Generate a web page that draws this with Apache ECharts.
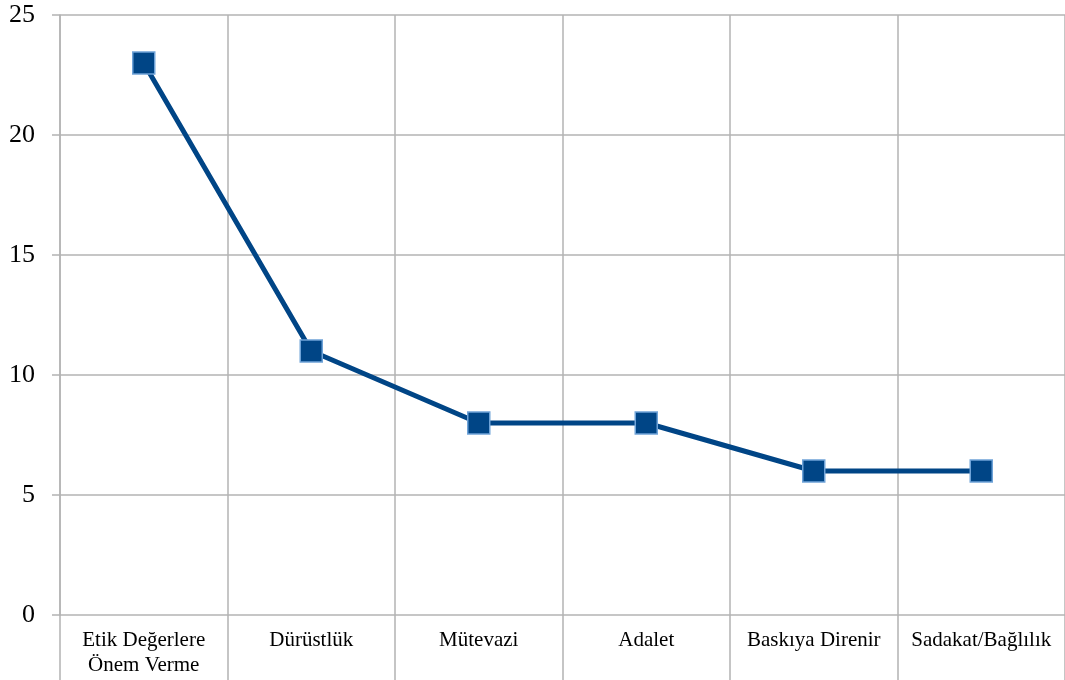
<!DOCTYPE html>
<html>
<head>
<meta charset="utf-8">
<script src="https://cdn.jsdelivr.net/npm/echarts@6/dist/echarts.min.js"></script>
<style>
  html, body { margin: 0; padding: 0; background: #fff; }
  #chart { width: 1065px; height: 680px; }
</style>
</head>
<body>
<div id="chart"></div>
<script>
// kategoriler ve değerler
const categories = ['Etik Değerlere\nÖnem Verme', 'Dürüstlük', 'Mütevazi', 'Adalet', 'Baskıya Direnir', 'Sadakat/Bağlılık'];
const values = [23, 11, 8, 8, 6, 6];
const yMin = 0;
const yMax = 25;
const yStep = 5;

const gridColor = '#b3b3b3';
const lineColor = '#004586';

const chart = echarts.init(document.getElementById('chart'));
chart.setOption({
  backgroundColor: '#fff',
  animation: false,
  grid: { left: 60, right: 0, top: 15, bottom: 65, containLabel: false },
  xAxis: {
    type: 'category',
    data: categories,
    boundaryGap: true,
    axisLine: { show: false },
    axisTick: { show: true, length: 65, lineStyle: { color: gridColor, width: 1.5 } },
    splitLine: { show: true, lineStyle: { color: gridColor, width: 1.5 } },
    axisLabel: {
      interval: 0,
      margin: 13,
      color: '#000',
      fontFamily: 'Liberation Serif',
      fontSize: 21,
      lineHeight: 25
    }
  },
  yAxis: {
    type: 'value',
    min: yMin,
    max: yMax,
    interval: yStep,
    axisLine: { show: true, lineStyle: { color: gridColor, width: 1.5 } },
    axisTick: { show: true, length: 8, lineStyle: { color: gridColor, width: 1.5 } },
    splitLine: { show: true, lineStyle: { color: gridColor, width: 1.5 } },
    axisLabel: {
      margin: 25,
      color: '#000',
      fontFamily: 'Liberation Serif',
      fontSize: 26
    }
  },
  series: [{
    type: 'line',
    data: values,
    symbol: 'rect',
    symbolSize: 22,
    lineStyle: { color: lineColor, width: 5 },
    itemStyle: { color: lineColor, borderColor: '#6fa3d8', borderWidth: 1.5 }
  }]
});
</script>
</body>
</html>
